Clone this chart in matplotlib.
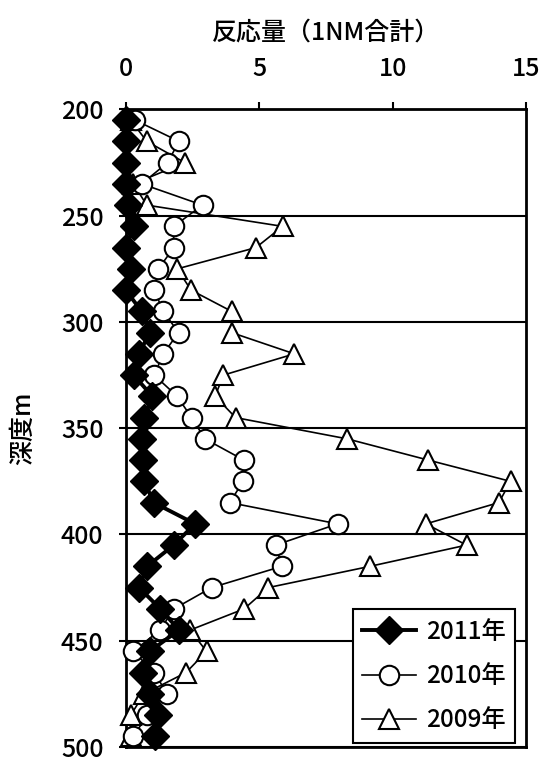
import matplotlib
matplotlib.use("Agg")
import matplotlib.pyplot as plt

plt.rcParams['font.family'] = ['Noto Sans CJK JP', 'DejaVu Sans']

depth = [205, 215, 225, 235, 245, 255, 265, 275, 285, 295,
         305, 315, 325, 335, 345, 355, 365, 375, 385, 395,
         405, 415, 425, 435, 445, 455, 465, 475, 485, 495]

y2011 = [0.0, 0.0, 0.0, 0.0, 0.1, 0.3, 0.0, 0.2, 0.0, 0.6,
         0.9, 0.5, 0.3, 1.0, 0.7, 0.6, 0.65, 0.7, 1.05, 2.6,
         1.8, 0.8, 0.5, 1.3, 2.0, 0.9, 0.65, 0.9, 1.2, 1.1]

y2010 = [0.35, 2.0, 1.57, 0.6, 2.88, 1.8, 1.8, 1.23, 1.07, 1.41,
         1.98, 1.41, 1.07, 1.93, 2.47, 2.97, 4.43, 4.4, 3.9, 7.94,
         5.62, 5.85, 3.22, 1.81, 1.28, 0.29, 1.07, 1.56, 0.81, 0.29]

y2009 = [0.19, 0.79, 2.22, 0.29, 0.79, 5.88, 4.88, 1.93, 2.45, 3.97,
         3.97, 6.32, 3.66, 3.35, 4.12, 8.3, 11.34, 14.42, 13.98, 11.25,
         12.77, 9.15, 5.34, 4.44, 2.41, 3.03, 2.26, 0.69, 0.19, 0.19]

labels = ['2011年', '2010年', '2009年']
xticks = [0, 5, 10, 15]
yticks = [200, 250, 300, 350, 400, 450, 500]

fig = plt.figure(figsize=(5.44, 7.63), dpi=100)
ax = fig.add_axes([0.231, 0.021, 0.736, 0.8355])

ax.plot(y2009, depth, color='black', lw=1.2, marker='^', ms=15,
        mfc='white', mec='black', mew=1.5, label=labels[2], zorder=3, clip_on=False)
ax.plot(y2010, depth, color='black', lw=1.2, marker='o', ms=14,
        mfc='white', mec='black', mew=1.5, label=labels[1], zorder=4, clip_on=False)
ax.plot(y2011, depth, color='black', lw=2.8, marker='D', ms=14.5,
        mfc='black', mec='black', label=labels[0], zorder=5, clip_on=False)

ax.set_xlim(0, 15)
ax.set_ylim(500, 200)
ax.set_xticks(xticks)
ax.set_yticks(yticks)
ax.xaxis.tick_top()
ax.xaxis.set_label_position('top')
ax.set_xlabel('反応量（1NM合計）', fontsize=18, labelpad=12, fontweight='medium')
ax.set_ylabel('深度m', fontsize=18, labelpad=18, fontweight='medium')
ax.tick_params(axis='both', labelsize=18, width=1.5, length=5, direction='out', color='black')
ax.tick_params(axis='x', pad=15)
ax.tick_params(axis='y', pad=11)
for t in ax.get_xticklabels() + ax.get_yticklabels():
    t.set_fontweight('medium')
for s in ax.spines.values():
    s.set_linewidth(2)
ax.grid(axis='y', color='black', lw=1.5)
ax.set_axisbelow(True)

h, l = ax.get_legend_handles_labels()
leg = ax.legend(h[::-1], l[::-1], loc='lower right', frameon=True,
                prop={'size': 17.5, 'weight': 'medium'},
                fancybox=False, edgecolor='black', framealpha=1,
                handlelength=2.2, borderpad=0.4, labelspacing=0.75,
                handletextpad=0.4, borderaxespad=0,
                bbox_to_anchor=(0.9725, 0.006))
leg.get_frame().set_linewidth(1.5)

fig.savefig('out.png', dpi=100)
